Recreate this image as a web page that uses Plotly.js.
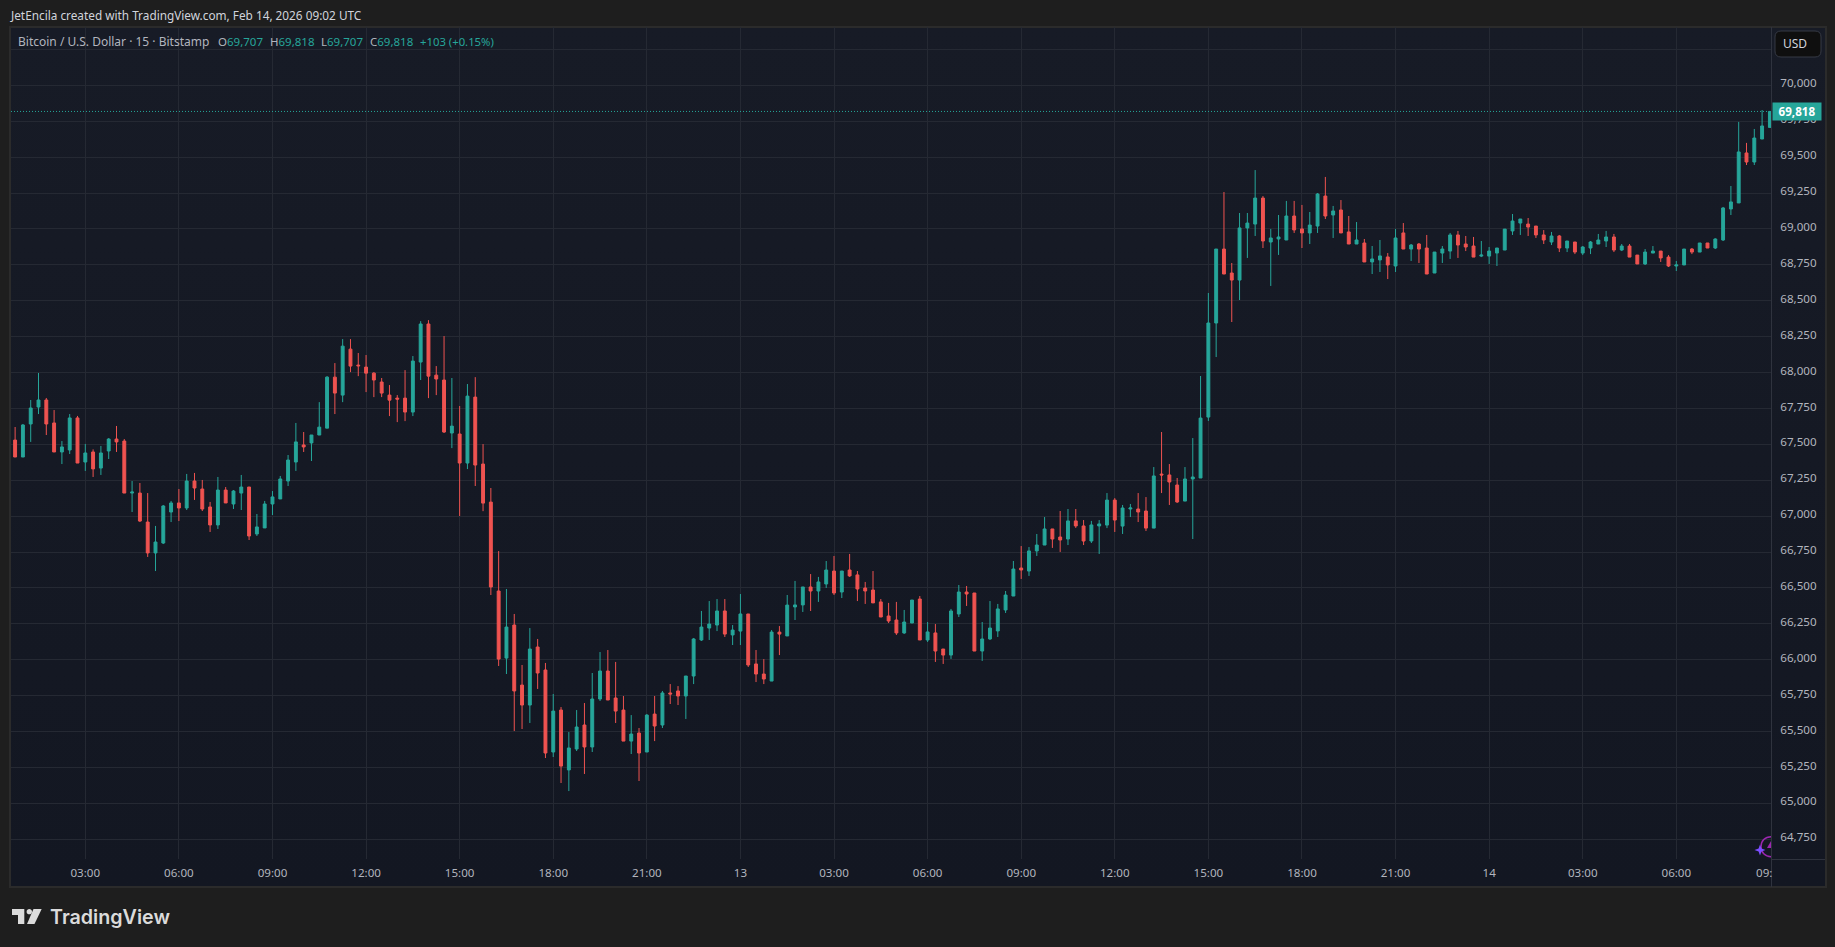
<!DOCTYPE html>
<html>
<head>
<meta charset="utf-8">
<script src="https://cdn.plot.ly/plotly-3.0.1.min.js"></script>
<style>
html,body{margin:0;padding:0;width:1835px;height:947px;overflow:hidden;background:#1e1e1e}
#panel{position:absolute;left:9px;top:26px;width:1818px;height:862px;box-sizing:border-box;border:2px solid #2b2b2b;background:linear-gradient(180deg,#171b26 0%,#131722 100%)}
#chart{position:absolute;left:0;top:0;width:1835px;height:947px}
</style>
</head>
<body>
<div id="panel"></div>
<div id="chart"></div>
<script>
const startTime = Date.UTC(2026, 1, 12, 0, 45);
const barMinutes = 15;

const open = [
67530,67412,67642,67760,67809,67649,67447,67461,67684,67377,
67447,67335,67454,67537,67523,67161,67161,66959,66744,66813,
67029,67092,67057,67245,67189,67064,66939,67182,67085,67161,
67203,66876,66918,67085,67120,67245,67377,67496,67510,67565,
67613,67968,67843,68163,68052,68038,67996,67934,67843,67822,
67822,67725,68073,68338,67982,67948,67579,67572,67370,67829,
67363,67098,66479,66012,66242,65824,65685,66089,65929,65358,
65650,65233,65379,65546,65393,65727,65922,65734,65650,65434,
65490,65358,65622,65546,65769,65783,65748,65887,66138,66221,
66242,66340,66173,66200,66319,65971,65901,65852,66193,66166,
66368,66382,66507,66479,66528,66618,66472,66625,66591,66500,
66486,66403,66305,66277,66187,66256,66423,66138,66187,66075,
66033,66319,66472,66465,66061,66145,66201,66347,66444,66639,
66618,66758,66799,66911,66855,66841,66967,66932,66827,66932,
66938,67112,66931,67050,67050,67036,66917,67293,67287,67217,
67105,67259,67266,67690,68345,68860,68693,68644,69007,69034,
69215,68909,68930,68923,69090,69000,68972,69020,69229,69097,
69132,68979,68895,68902,68770,68784,68805,68742,68972,68860,
68895,68867,68693,68832,68846,68958,68895,68881,68811,68811,
68832,68853,68986,69041,69034,69020,68958,68909,68951,68867,
68909,68832,68867,68895,68916,68944,68853,68881,68818,68756,
68832,68846,68804,68742,68749,68860,68839,68902,68867,68923,
69139,69181,69529,69466,69626,69707];

const high = [
67621,67642,67809,67997,67823,67739,67523,67711,67698,67503,
67465,67489,67544,67628,67537,67245,67231,67161,66932,67078,
67106,67189,67294,67301,67252,67099,67273,67203,67182,67287,
67203,67015,67106,67175,67280,67426,67649,67586,67565,67794,
67975,68066,68233,68233,68136,68122,68003,67962,67913,67843,
68017,68115,68358,68365,68045,68254,67962,67767,67920,67968,
67502,67196,66757,66493,66319,65964,66221,66145,65978,65762,
65671,65497,65650,65699,65908,66054,66068,65985,65748,65615,
65525,65622,65748,65783,65831,65817,65887,66152,66340,66409,
66423,66423,66242,66458,66319,66068,66005,66207,66235,66451,
66549,66507,66597,66577,66688,66723,66618,66737,66618,66542,
66618,66423,66396,66403,66347,66416,66444,66263,66249,66075,
66354,66521,66514,66465,66263,66409,66389,66479,66688,66792,
66785,66876,66994,66911,67036,67050,67050,66973,66967,66973,
67161,67126,67078,67085,67161,67133,67342,67586,67363,67266,
67342,67544,67976,68554,68860,69257,68763,69111,69111,69410,
69229,69000,69097,69195,69195,69167,69118,69250,69362,69160,
69201,69090,69048,68930,68881,68923,68832,69000,69041,68895,
68902,68958,68839,68881,68972,68986,68951,68944,68916,68874,
68867,68999,69104,69069,69076,69020,68992,68979,68958,68916,
68909,68881,68916,68965,68986,68965,68895,68895,68818,68860,
68881,68846,68818,68777,68860,68867,68902,68902,68935,69153,
69299,69745,69599,69696,69828,69818];

const low = [
67412,67412,67517,67711,67565,67447,67363,67433,67370,67315,
67273,67287,67398,67447,67161,67029,66959,66716,66618,66806,
66959,66966,67043,67113,67036,66890,66911,67092,67050,67043,
66834,66862,66918,67008,67120,67210,67315,67447,67384,67565,
67613,67711,67794,68003,67975,67864,67829,67829,67697,67655,
67662,67697,67948,67822,67843,67579,67474,67001,67328,67210,
67035,66451,65957,65901,65504,65518,65560,65797,65316,65323,
65142,65086,65365,65205,65358,65713,65720,65560,65434,65344,
65156,65358,65434,65525,65692,65685,65588,65831,66131,66138,
66200,66159,66103,66103,65950,65845,65831,65852,66033,66166,
66277,66333,66340,66403,66500,66451,66430,66577,66409,66389,
66396,66298,66256,66173,66180,66256,66138,66124,65985,65971,
66006,66298,66375,66061,65992,66138,66159,66326,66444,66563,
66584,66723,66799,66779,66751,66799,66918,66799,66813,66737,
66917,66890,66876,66994,66959,66897,66917,67161,67078,67092,
67105,66841,67266,67663,68108,68686,68352,68505,68798,68951,
68867,68603,68819,68923,68972,68867,68895,68972,69069,68937,
68972,68895,68895,68770,68686,68700,68651,68700,68860,68777,
68763,68686,68693,68763,68791,68798,68846,68804,68804,68756,
68742,68853,68958,68958,68951,68937,68895,68888,68839,68839,
68825,68818,68825,68895,68874,68839,68846,68804,68756,68749,
68832,68770,68735,68707,68749,68825,68839,68867,68860,68916,
69097,69181,69445,69445,69626,69707];

const close = [
67412,67635,67753,67809,67642,67447,67482,67684,67370,67440,
67329,67440,67537,67517,67161,67168,66966,66744,66820,67071,
67092,67057,67245,67196,67050,66939,67182,67092,67175,67203,
66862,66925,67085,67134,67259,67391,67517,67482,67565,67620,
67968,67857,68184,68045,68047,67996,67948,67857,67808,67815,
67725,68080,68338,67975,67955,67586,67627,67370,67836,67356,
67091,66507,66005,66228,65783,65685,66075,65908,65351,65643,
65260,65386,65532,65393,65727,65922,65720,65643,65434,65483,
65351,65615,65539,65769,65762,65748,65887,66145,66228,66249,
66340,66179,66207,66319,65964,65901,65866,66193,66179,66381,
66382,66507,66479,66542,66625,66465,66618,66584,66493,66479,
66396,66298,66270,66187,66263,66416,66138,66194,66061,66033,
66340,66472,66458,66061,66145,66221,66354,66451,66632,66625,
66758,66799,66911,66841,66834,66967,66932,66827,66939,66946,
67112,66973,67057,67057,67029,66917,67280,67287,67238,67099,
67259,67273,67683,68345,68860,68686,68644,69007,69041,69215,
68916,68937,68944,69090,68993,68972,69027,69243,69090,69125,
68972,68895,68923,68770,68791,68812,68749,68937,68860,68888,
68860,68686,68839,68860,68958,68888,68874,68804,68818,68846,
68867,68999,69055,69069,69013,68958,68923,68951,68867,68916,
68839,68874,68909,68923,68944,68853,68881,68804,68756,68839,
68846,68798,68742,68749,68860,68839,68902,68867,68930,69146,
69188,69536,69466,69633,69717,69818];

const timeTickValues = [
"2026-02-12 03:00","2026-02-12 06:00","2026-02-12 09:00","2026-02-12 12:00","2026-02-12 15:00","2026-02-12 18:00","2026-02-12 21:00",
"2026-02-13 00:00","2026-02-13 03:00","2026-02-13 06:00","2026-02-13 09:00","2026-02-13 12:00","2026-02-13 15:00","2026-02-13 18:00","2026-02-13 21:00",
"2026-02-14 00:00","2026-02-14 03:00","2026-02-14 06:00"];
const timeTickLabels = ["03:00","06:00","09:00","12:00","15:00","18:00","21:00","13","03:00","06:00","09:00","12:00","15:00","18:00","21:00","14","03:00","06:00"];
const priceTickValues = [64750,65000,65250,65500,65750,66000,66250,66500,66750,67000,67250,67500,67750,68000,68250,68500,68750,69000,69250,69500,69750,70000,70250];
const priceTickLabels = ["64,750","65,000","65,250","65,500","65,750","66,000","66,250","66,500","66,750","67,000","67,250","67,500","67,750","68,000","68,250","68,500","68,750","69,000","69,250","69,500","69,750","70,000",""];

const UP = "#26a69a", DOWN = "#ef5350", TXT = "#b2b5be", GRID = "#252933", LINE = "#2f333e";
const FONT = "'Noto Sans', sans-serif";

const L = 11, R = 1771, T = 27, B = 859;
const px = x => (x - L) / (R - L);
const py = y => 1 - (y - T) / (B - T);
const P = (x, y) => px(x).toFixed(5) + "," + py(y).toFixed(5);

const times = open.map((_, i) => startTime + i * barMinutes * 60000);

const trace = {
  type: "candlestick", x: times, open, high, low, close,
  increasing: {line: {color: UP, width: 1}, fillcolor: UP},
  decreasing: {line: {color: DOWN, width: 1}, fillcolor: DOWN},
  whiskerwidth: 0, hoverinfo: "skip", showlegend: false
};

function seg(x0, y0, x1, y1, c) {
  return {type: "line", xref: "paper", yref: "paper", x0: px(x0), y0: py(y0), x1: px(x1), y1: py(y1), line: {color: c, width: 1}};
}
function poly(path, fill, line) {
  return {type: "path", xref: "paper", yref: "paper", path, fillcolor: fill || "rgba(0,0,0,0)", line: line || {width: 0}, layer: "above"};
}
const RR = 6, bx0 = 1775, bx1 = 1821, by0 = 31, by1 = 57;
const shapes = [
  seg(R + 0.5, B, R + 0.5, 887, LINE),
  seg(R, B + 0.5, 1825, B + 0.5, LINE),
  {type: "line", xref: "paper", yref: "y", x0: 0, x1: 1, y0: close[close.length - 1], y1: close[close.length - 1], line: {color: UP, width: 1, dash: "1px,2px"}},
  // USD button
  poly("M" + P(bx0 + RR, by0) + " L" + P(bx1 - RR, by0) + " Q" + P(bx1, by0) + " " + P(bx1, by0 + RR) + " L" + P(bx1, by1 - RR) + " Q" + P(bx1, by1) + " " + P(bx1 - RR, by1) + " L" + P(bx0 + RR, by1) + " Q" + P(bx0, by1) + " " + P(bx0, by1 - RR) + " L" + P(bx0, by0 + RR) + " Q" + P(bx0, by0) + " " + P(bx0 + RR, by0) + " Z", "#0f0f0f", {color: "#363a45", width: 1}),
  // logo
  poly("M" + P(12, 909) + " L" + P(24.3, 909) + " L" + P(24.3, 924) + " L" + P(18, 924) + " L" + P(18, 915) + " L" + P(12, 915) + " Z", "#dbdbdb"),
  poly("M" + P(33.5, 909) + " L" + P(41.7, 909) + " L" + P(34.5, 924) + " L" + P(27, 924) + " Z", "#dbdbdb"),
  poly("M" + P(26.6, 911.7) + " C" + P(26.6, 908.2) + " " + P(32, 908.2) + " " + P(32, 911.7) + " C" + P(32, 915.2) + " " + P(26.6, 915.2) + " " + P(26.6, 911.7) + " Z", "#dbdbdb"),
  // purple marker
  poly("M" + P(1771, 836.7) + " C" + P(1765, 836.7) + " " + P(1761, 841) + " " + P(1761, 846.7) + " C" + P(1761, 852.4) + " " + P(1765, 856.7) + " " + P(1771, 856.7), null, {color: "#9c27b0", width: 1.5}),
  poly("M" + P(1771, 841) + " L" + P(1767, 848) + " L" + P(1771, 848) + " Z", "#9c27b0"),
  poly("M" + P(1760, 844.5) + " L" + P(1761.4, 848.6) + " L" + P(1765.5, 850) + " L" + P(1761.4, 851.4) + " L" + P(1760, 855.5) + " L" + P(1758.6, 851.4) + " L" + P(1754.5, 850) + " L" + P(1758.6, 848.6) + " Z", "#7c4dff")
];

const g = s => '<span style="color:' + UP + '">' + s + '</span>';

function note(x, y, text, size, color, extra) {
  return Object.assign({xref: "paper", yref: "paper", x: px(x), y: py(y), xanchor: "left", yanchor: "middle", text, showarrow: false, borderpad: 0, font: {family: FONT, size, color}}, extra || {});
}
const annotations = [
  note(9, 15, "JetEncila created with TradingView.com, Feb 14, 2026 09:02 UTC", 11.8, "#d1d4dc"),
  note(17, 42, "Bitcoin / U.S. Dollar · 15 · Bitstamp", 12, TXT),
  note(217, 42, "O" + g("69,707"), 11.5, TXT),
  note(268.5, 42, "H" + g("69,818"), 11.5, TXT),
  note(319.5, 42, "L" + g("69,707"), 11.5, TXT),
  note(369, 42, "C" + g("69,818"), 11.5, TXT),
  note(419, 42, g("+103 (+0.15%)"), 11.3, TXT),
  note(1755, 872.5, "09:", 11.6, TXT),
  note(1782, 44, "USD", 12, "#d1d4dc"),
  note(49, 916.5, "TradingView", 19.7, "#dbdbdb", {font: {family: "Inter, sans-serif", size: 19.7, color: "#dbdbdb", weight: 600}}),
  {xref: "paper", yref: "y", x: px(1772), y: close[close.length - 1], xanchor: "left", yanchor: "middle", text: "<b>69,818</b>", showarrow: false, bgcolor: UP, width: 48, height: 17, borderpad: 0, font: {family: FONT, size: 11.6, color: "#ffffff"}}
];

const layout = {
  width: 1835, height: 947,
  margin: {l: L, r: 1835 - R, t: T, b: 947 - B, pad: 0},
  paper_bgcolor: "rgba(0,0,0,0)", plot_bgcolor: "rgba(0,0,0,0)",
  boxgap: 0.47,
  showlegend: false,
  xaxis: {
    type: "date", range: ["2026-02-12 00:37:06", "2026-02-14 09:02:07"],
    rangeslider: {visible: false}, tickmode: "array", tickvals: timeTickValues, ticktext: timeTickLabels,
    showgrid: true, gridcolor: GRID, gridwidth: 1, zeroline: false, showline: false,
    ticks: "", ticklabelstandoff: 5, tickangle: 0, tickfont: {family: FONT, size: 11.6, color: TXT}
  },
  yaxis: {
    side: "right", range: [64613, 70406], tickmode: "array", tickvals: priceTickValues, ticktext: priceTickLabels,
    showgrid: true, gridcolor: GRID, gridwidth: 1, zeroline: false, showline: true, linecolor: LINE,
    ticks: "", ticklabelstandoff: 6, ticklabelshift: -2, tickfont: {family: FONT, size: 11.6, color: TXT}
  },
  shapes, annotations
};
Plotly.newPlot("chart", [trace], layout, {displayModeBar: false, staticPlot: true});
</script>
</body>
</html>
